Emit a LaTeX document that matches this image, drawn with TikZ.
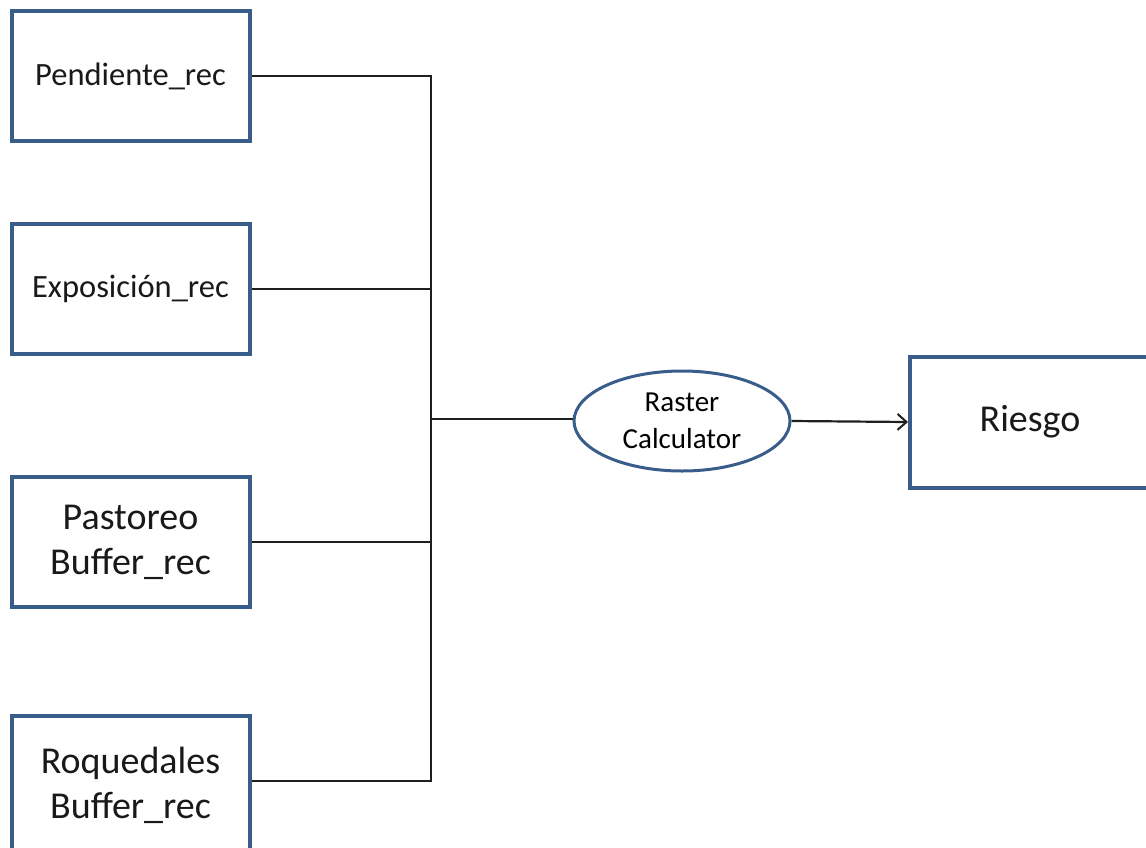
\documentclass[tikz,border=0pt]{standalone}
\usepackage{fontspec}
\setmainfont{Carlito}
\usetikzlibrary{shapes.geometric,arrows.meta}
\definecolor{boxblue}{RGB}{56,93,138}
\tikzset{
  inbox/.style={draw=boxblue, line width=4pt, fill=white, minimum width=238pt, minimum height=130pt, inner sep=0pt, align=center, text=black!90},
  calc/.style={ellipse, draw=boxblue, line width=3pt, fill=white, minimum width=216pt, minimum height=100pt, inner sep=0pt, align=center, font=\fontsize{29}{37}\selectfont},
  conn/.style={draw=black!88, line width=2.2pt},
  smalltxt/.style={font=\fontsize{32.5}{40}\selectfont},
  bigtxt/.style={font=\fontsize{38}{45}\selectfont}
}
\begin{document}
\begin{tikzpicture}[x=1pt,y=-1pt]
\useasboundingbox (0,0) rectangle (1146,847);
\clip (0,0) rectangle (1146,847);
\node[inbox, smalltxt] (pen) at (130.5,76) {Pendiente\_rec};
\node[inbox, smalltxt] (exp) at (130.5,289) {Exposición\_rec};
\node[inbox, bigtxt] (pas) at (130.5,542) {Pastoreo\\Buffer\_rec};
\node[inbox, bigtxt, minimum height=138pt] (roq) at (130.5,785) {Roquedales\\Buffer\_rec};
\node[calc] (rc) at (682,421) {Raster\\Calculator};
\node[inbox, bigtxt, minimum width=240pt, minimum height=131pt] (rie) at (1030,422) {Riesgo};
\coordinate (btop) at (431,76);
\coordinate (bbot) at (431,781);
\coordinate (bmid) at (431,419);
\draw[conn] (pen.east) -- (btop) -- (bbot) -- (bbot -| roq.east);
\draw[conn] (exp.east) -- (exp.east -| btop);
\draw[conn] (pas.east) -- (pas.east -| btop);
\draw[conn] (bmid) -- (bmid -| rc.west);
\draw[conn, -{Straight Barb[length=9pt,width=16pt,line width=2pt]}] (rc.east) -- (rie.west);
\end{tikzpicture}
\end{document}
